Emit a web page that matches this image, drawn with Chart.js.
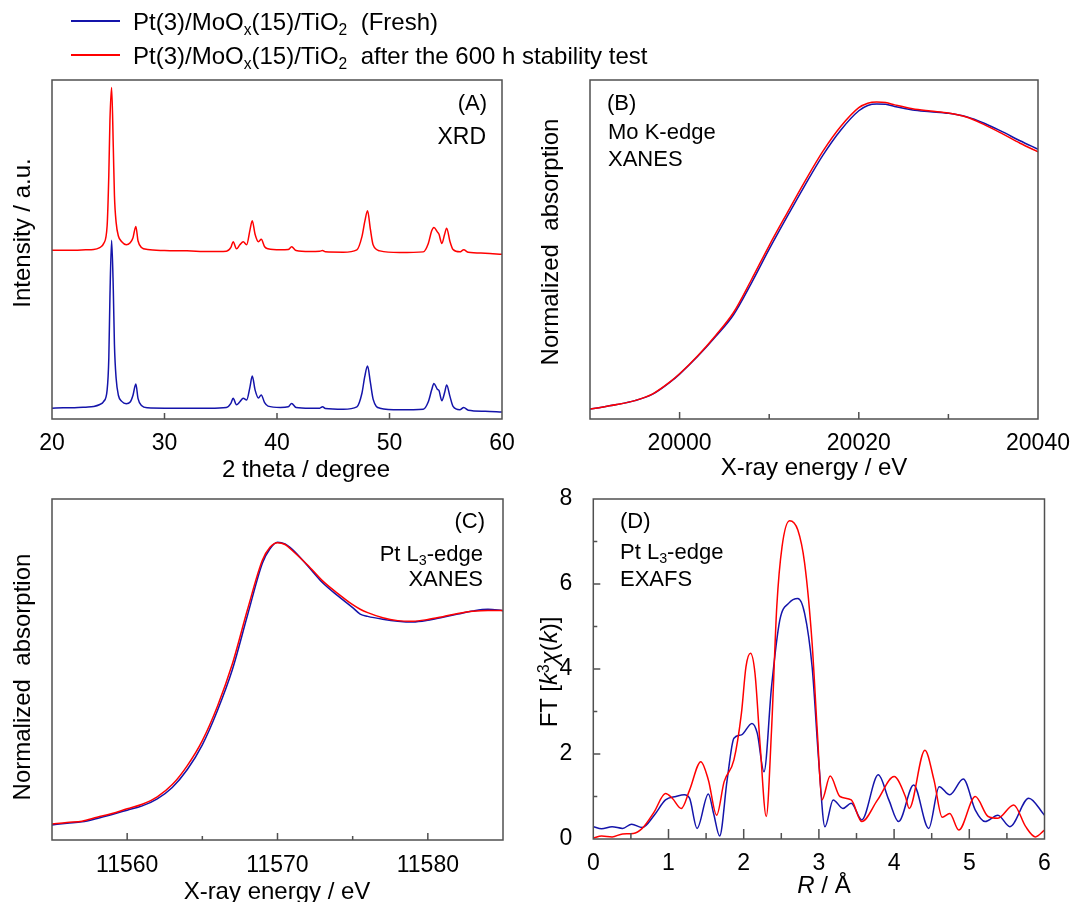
<!DOCTYPE html>
<html>
<head>
<meta charset="utf-8">
<script src="https://cdn.jsdelivr.net/npm/chart.js@4.4.0/dist/chart.umd.min.js"></script>
<style>
  body { margin: 0; background: #fff; }
  #page { position: relative; width: 1077px; height: 902px; overflow: hidden; font-family: 'Liberation Sans', Arial, sans-serif; color: #000; }
  .box { position: absolute; }
  .box canvas { display: block; }
  .t { position: absolute; white-space: nowrap; line-height: 1; }
  .t sub { font-size: 65%; vertical-align: -0.3em; line-height: 0; }
  .t sup { font-size: 65%; vertical-align: 0.5em; line-height: 0; }
  .key { position: absolute; height: 2px; width: 49px; left: 71px; }
  .rot { transform: translate(-50%, -50%) rotate(-90deg); }
  .mid { transform: translateX(-50%); }
</style>
</head>
<body>
<div id="page">
  <div class="box" style="left:0;top:60px"><canvas id="chartA" width="520" height="420"></canvas></div>
  <div class="box" style="left:520px;top:60px"><canvas id="chartB" width="557" height="420"></canvas></div>
  <div class="box" style="left:0;top:480px"><canvas id="chartC" width="520" height="422"></canvas></div>
  <div class="box" style="left:520px;top:472px"><canvas id="chartD" width="557" height="430"></canvas></div>

  <!-- legend -->
  <div class="key" style="top:20px;background:rgb(20,20,170)"></div>
  <div class="t" style="left:133px;top:9.9px;font-size:24px">Pt(3)/MoO<sub>x</sub>(15)/TiO<sub>2</sub>&nbsp; (Fresh)</div>
  <div class="key" style="top:54px;background:#ff0000"></div>
  <div class="t" style="left:133px;top:43.9px;font-size:24px">Pt(3)/MoO<sub>x</sub>(15)/TiO<sub>2</sub>&nbsp; after the 600 h stability test</div>

  <!-- panel labels -->
  <div class="t" style="right:590px;top:91.9px;font-size:22px">(A)</div>
  <div class="t" style="right:591px;top:124.5px;font-size:23px">XRD</div>
  <div class="t" style="left:607px;top:91.9px;font-size:22px">(B)</div>
  <div class="t" style="left:608px;top:121.4px;font-size:22px">Mo K-edge</div>
  <div class="t" style="left:608px;top:148.4px;font-size:22px">XANES</div>
  <div class="t" style="right:592px;top:509.8px;font-size:22px">(C)</div>
  <div class="t" style="right:594px;top:543.4px;font-size:22px">Pt L<sub>3</sub>-edge</div>
  <div class="t" style="right:594px;top:568.4px;font-size:22px">XANES</div>
  <div class="t" style="left:620px;top:509.8px;font-size:22px">(D)</div>
  <div class="t" style="left:620px;top:541.4px;font-size:22px">Pt L<sub>3</sub>-edge</div>
  <div class="t" style="left:620px;top:568.4px;font-size:22px">EXAFS</div>

  <!-- axis titles -->
  <div class="t mid" style="left:306px;top:456.7px;font-size:24px">2 theta / degree</div>
  <div class="t mid" style="left:814px;top:454.7px;font-size:24px">X-ray energy / eV</div>
  <div class="t mid" style="left:277px;top:878.7px;font-size:24px">X-ray energy / eV</div>
  <div class="t mid" style="left:824px;top:872.7px;font-size:24px"><i>R</i> / Å</div>
  <div class="t rot" style="left:22.2px;top:233px;font-size:24px">Intensity / a.u.</div>
  <div class="t rot" style="left:550.2px;top:242px;font-size:24px">Normalized&nbsp; absorption</div>
  <div class="t rot" style="left:22.2px;top:677px;font-size:24px">Normalized&nbsp; absorption</div>
  <div class="t rot" style="left:548.7px;top:672px;font-size:24px">FT [<i>k</i><sup>3</sup><i>χ</i>(<i>k</i>)]</div>
</div>

<script>
const freshColor = 'rgb(20,20,170)';
const agedColor = '#ff0000';
const tickFont = { family: "'Liberation Sans', Arial, sans-serif", size: 23 };

// (A) XRD, offset patterns in arbitrary units
const xrdAngle = [20, 21, 22, 23, 23.7, 24.2, 24.6, 24.9, 25.05, 25.15, 25.3, 25.45, 25.55, 25.7, 25.9, 26.2, 26.6, 26.95, 27.2, 27.45, 27.65, 27.95, 28.5, 30, 32, 34, 35.5, 35.9, 36.1, 36.4, 36.7, 37.0, 37.3, 37.6, 37.8, 38.05, 38.35, 38.6, 38.9, 39.2, 40.3, 41.0, 41.3, 41.7, 42.9, 43.8, 44.05, 44.3, 45.9, 47.1, 47.55, 47.8, 48.05, 48.3, 48.55, 49.15, 50.9, 53.0, 53.45, 53.75, 53.95, 54.25, 54.4, 54.65, 54.9, 55.08, 55.38, 55.65, 56.25, 56.6, 57.0, 58.5, 60];
const xrdFresh = [3.2, 3.3, 3.3, 3.5, 3.7, 4.2, 5.2, 8.5, 18, 36, 52.7, 38, 22, 12, 7.0, 5.2, 4.5, 5.0, 7.0, 10.3, 6.0, 4.0, 3.3, 3.2, 3.2, 3.2, 3.4, 4.6, 6.1, 4.2, 5.1, 6.1, 5.6, 9.5, 12.7, 8.6, 6.2, 7.1, 4.8, 3.8, 3.4, 3.6, 4.6, 3.4, 3.2, 3.2, 3.6, 3.1, 2.9, 3.6, 7.6, 12.5, 15.6, 10.8, 5.8, 3.2, 2.7, 2.9, 5.1, 8.6, 10.5, 8.8, 8.4, 5.4, 7.8, 10.0, 6.6, 3.7, 2.7, 3.4, 2.6, 2.3, 2.1];
const xrdAged = [49.8, 49.8, 49.8, 49.9, 50.0, 50.5, 51.8, 57, 72, 88, 97.8, 80, 66, 58, 54, 52.3, 51.4, 52, 53.5, 56.8, 52.5, 50.6, 50.0, 49.7, 49.6, 49.4, 49.5, 50.6, 52.3, 50.2, 51.4, 52.3, 51.4, 55.8, 58.5, 54.5, 52.3, 53.0, 50.8, 50.2, 49.9, 50.0, 50.8, 49.7, 49.4, 49.5, 49.7, 49.3, 49.2, 49.9, 53.8, 58.2, 61.4, 56, 51.3, 49.6, 49.1, 49.3, 51.8, 55.5, 56.5, 55.2, 54.5, 51.8, 54.5, 56.3, 52.3, 50.0, 49.3, 49.9, 49.2, 48.9, 48.6];

// (B) Mo K-edge XANES
const moEnergy = [19990, 19993, 19995, 19997, 19999, 20000, 20002, 20004, 20006, 20008, 20010, 20012, 20014, 20016, 20018, 20020, 20021, 20022, 20023, 20024, 20026, 20028, 20030, 20032, 20034, 20036, 20038, 20040];
const moFresh = [0.035, 0.051, 0.065, 0.088, 0.132, 0.159, 0.221, 0.291, 0.368, 0.480, 0.601, 0.716, 0.828, 0.934, 1.023, 1.091, 1.110, 1.115, 1.114, 1.106, 1.094, 1.088, 1.082, 1.070, 1.047, 1.017, 0.985, 0.955];
const moAged = [0.035, 0.051, 0.065, 0.089, 0.133, 0.160, 0.223, 0.295, 0.376, 0.492, 0.614, 0.729, 0.842, 0.948, 1.036, 1.102, 1.118, 1.122, 1.120, 1.112, 1.098, 1.090, 1.083, 1.069, 1.042, 1.010, 0.976, 0.946];

// (C) Pt L3-edge XANES
const ptEnergy = [11555, 11556, 11557, 11558, 11559, 11560, 11561, 11562, 11563, 11564, 11565, 11566, 11567, 11568, 11569, 11569.5, 11570, 11570.5, 11571, 11572, 11573, 11574, 11575, 11575.5, 11576, 11577, 11578, 11579, 11580, 11581, 11582, 11583, 11584, 11585];
const ptFresh = [0.053, 0.059, 0.064, 0.076, 0.090, 0.105, 0.120, 0.145, 0.185, 0.248, 0.335, 0.455, 0.600, 0.790, 0.975, 1.025, 1.048, 1.042, 1.022, 0.965, 0.905, 0.860, 0.818, 0.795, 0.787, 0.777, 0.770, 0.767, 0.773, 0.784, 0.795, 0.806, 0.812, 0.807];
const ptAged = [0.056, 0.062, 0.066, 0.080, 0.093, 0.110, 0.126, 0.152, 0.195, 0.262, 0.350, 0.470, 0.620, 0.810, 0.985, 1.030, 1.046, 1.040, 1.018, 0.968, 0.912, 0.868, 0.828, 0.812, 0.800, 0.782, 0.772, 0.770, 0.776, 0.786, 0.797, 0.805, 0.808, 0.808];

// (D) Pt L3-edge EXAFS, |FT| vs R
const rFresh = [0, 0.11, 0.25, 0.39, 0.51, 0.65, 0.81, 0.96, 1.10, 1.21, 1.28, 1.38, 1.53, 1.60, 1.68, 1.78, 1.87, 1.97, 2.11, 2.18, 2.27, 2.37, 2.48, 2.60, 2.72, 2.81, 2.91, 3.00, 3.08, 3.19, 3.32, 3.43, 3.57, 3.79, 3.93, 4.06, 4.26, 4.46, 4.60, 4.74, 4.92, 5.08, 5.21, 5.38, 5.54, 5.79, 6.0];
const ftFresh = [0.29, 0.24, 0.29, 0.25, 0.35, 0.27, 0.56, 0.92, 1.00, 1.04, 0.96, 0.25, 1.06, 0.60, 0.07, 1.39, 2.37, 2.45, 2.72, 2.49, 1.58, 3.58, 5.15, 5.55, 5.66, 5.31, 4.05, 1.78, 0.29, 0.92, 0.72, 0.84, 0.45, 1.51, 0.92, 0.41, 1.27, 0.25, 1.23, 1.04, 1.41, 0.68, 0.41, 0.56, 0.29, 0.96, 0.56];
const rAged = [0, 0.11, 0.25, 0.39, 0.53, 0.65, 0.81, 0.96, 1.05, 1.17, 1.28, 1.43, 1.53, 1.64, 1.74, 1.87, 1.97, 2.03, 2.09, 2.15, 2.22, 2.30, 2.37, 2.44, 2.51, 2.61, 2.72, 2.81, 2.91, 2.98, 3.04, 3.15, 3.28, 3.43, 3.57, 3.78, 4.00, 4.15, 4.20, 4.41, 4.53, 4.64, 4.74, 4.86, 5.08, 5.25, 5.38, 5.59, 5.75, 5.88, 6.0];
const ftAged = [0.02, 0.07, 0.05, 0.12, 0.13, 0.25, 0.64, 1.07, 0.96, 0.72, 1.15, 1.82, 1.39, 0.56, 1.35, 1.86, 2.96, 4.05, 4.37, 3.90, 2.17, 0.53, 2.56, 5.47, 6.88, 7.49, 7.27, 6.49, 4.60, 2.49, 0.92, 1.48, 1.00, 0.92, 0.41, 0.92, 1.47, 1.00, 0.72, 2.09, 1.39, 0.51, 0.60, 0.21, 1.00, 0.53, 0.49, 0.80, 0.29, 0.05, 0.21];

const pts = (xs, ys) => xs.map((x, i) => ({ x: x, y: ys[i] }));

// box round the plot area and inward tick marks
const frameTicks = {
  id: 'frameTicks',
  afterDatasetsDraw(chart, args, opts) {
    const { ctx, chartArea: a, scales } = chart;
    ctx.save();
    ctx.strokeStyle = '#505050';
    ctx.lineWidth = 1.5;
    ctx.beginPath();
    const xs = scales.x;
    xs.ticks.forEach(t => {
      if (t.value <= xs.min || t.value >= xs.max) return;
      const px = xs.getPixelForValue(t.value);
      const len = t.label !== '' ? opts.xMajor : opts.xMinor;
      ctx.moveTo(px, a.bottom);
      ctx.lineTo(px, a.bottom - len);
    });
    if (opts.yMajor) {
      const ys = scales.y;
      ys.ticks.forEach(t => {
        if (t.value <= ys.min || t.value >= ys.max) return;
        const py = ys.getPixelForValue(t.value);
        const len = t.label !== '' ? opts.yMajor : opts.yMinor;
        ctx.moveTo(a.left, py);
        ctx.lineTo(a.left + len, py);
      });
    }
    ctx.stroke();
    ctx.strokeRect(a.left, a.top, a.right - a.left, a.bottom - a.top);
    ctx.restore();
  }
};
Chart.register(frameTicks);

const makeChart = (id, set) => new Chart(document.getElementById(id), {
  type: 'line',
  data: {
    datasets: [
      { data: set.aged, borderColor: agedColor },
      { data: set.fresh, borderColor: freshColor }
    ]
  },
  options: {
    responsive: false,
    animation: false,
    events: [],
    datasets: { line: { borderWidth: 1.5, pointRadius: 0, fill: false, cubicInterpolationMode: 'monotone' } },
    layout: { padding: set.padding },
    plugins: { legend: { display: false }, tooltip: { enabled: false }, frameTicks: set.ticks },
    scales: { x: set.x, y: set.y }
  }
});

const xAxis = (min, max, step, pad, height, show) => ({
  type: 'linear', min: min, max: max,
  grid: { display: false }, border: { display: false },
  ticks: { stepSize: step, autoSkip: false, maxRotation: 0, padding: pad, font: tickFont, color: '#000',
    callback: v => show(v) ? String(v) : '' },
  afterFit: s => { s.height = height; }
});

makeChart('chartA', {
  fresh: pts(xrdAngle, xrdFresh), aged: pts(xrdAngle, xrdAged),
  padding: { left: 52, top: 20, right: 18, bottom: 0 },
  ticks: { xMajor: 6, xMinor: 4 },
  x: xAxis(20, 60, 10, 3, 61, v => true),
  y: { type: 'linear', display: false, min: 0, max: 100 }
});

makeChart('chartB', {
  fresh: pts(moEnergy, moFresh), aged: pts(moEnergy, moAged),
  padding: { left: 70, top: 20, right: 39, bottom: 0 },
  ticks: { xMajor: 7, xMinor: 5 },
  x: xAxis(19990, 20040, 10, 3, 61, v => v % 20 === 0),
  y: { type: 'linear', display: false, min: 0, max: 1.2 }
});

makeChart('chartC', {
  fresh: pts(ptEnergy, ptFresh), aged: pts(ptEnergy, ptAged),
  padding: { left: 52, top: 19, right: 17, bottom: 0 },
  ticks: { xMajor: 7, xMinor: 4 },
  x: xAxis(11555, 11585, 5, 4, 62, v => v % 10 === 0),
  y: { type: 'linear', display: false, min: 0, max: 1.2 }
});

makeChart('chartD', {
  fresh: pts(rFresh, ftFresh), aged: pts(rAged, ftAged),
  padding: { left: 0, top: 27, right: 32.5, bottom: 0 },
  ticks: { xMajor: 10, xMinor: 6, yMajor: 7, yMinor: 4 },
  x: xAxis(0, 6, 0.5, 3, 63, v => Number.isInteger(v)),
  y: {
    type: 'linear', min: 0, max: 8,
    grid: { display: false }, border: { display: false },
    ticks: { stepSize: 1, autoSkip: false, padding: 13, font: tickFont, color: '#000',
      callback: v => v % 2 === 0 ? String(v) : '' },
    afterFit: s => { s.width = 73.3; }
  }
});
</script>
</body>
</html>
